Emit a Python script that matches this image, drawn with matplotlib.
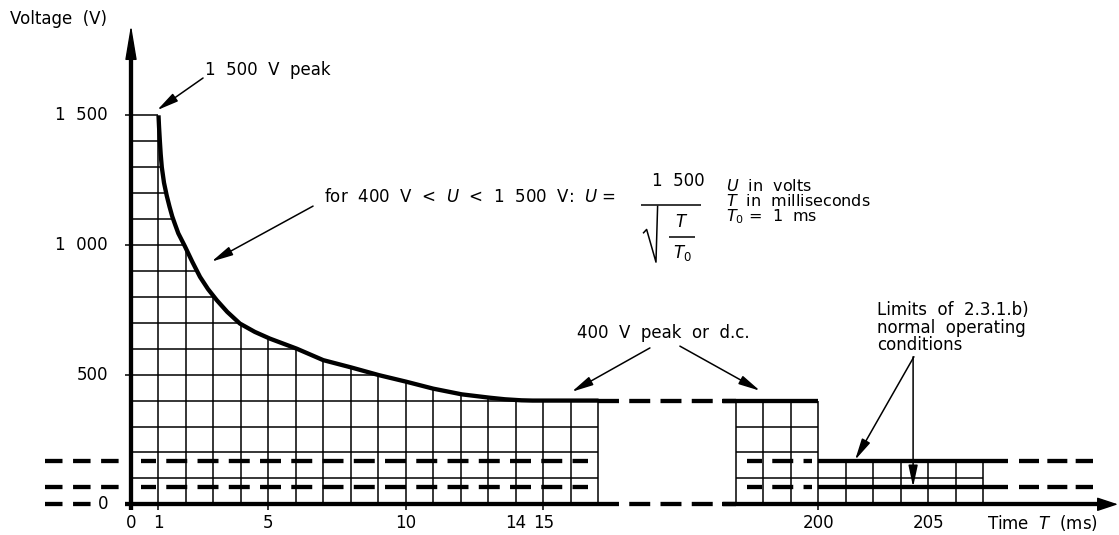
import matplotlib.pyplot as plt
from matplotlib.patches import Polygon

plt.rcParams['font.family'] = 'DejaVu Sans'
plt.rcParams['font.size'] = 12
plt.rcParams['mathtext.fontset'] = 'dejavusans'
plt.rcParams['lines.scale_dashes'] = False
plt.rcParams['lines.solid_capstyle'] = 'butt'

# x positions are in grid cells (1 cell = 1 ms); the axis is broken after 17,
# cells 22..25 stand for 197..200 ms and 25..31 for 200..206 ms
curve_t = [1.00, 1.02, 1.05, 1.08, 1.12, 1.20, 1.30, 1.40, 1.50, 1.60, 1.72,
           1.96, 2.23, 2.51, 2.80, 3.12, 3.50, 3.96, 4.50, 5.05, 6.03, 6.99,
           8.00, 9.02, 10.0, 10.99, 12.03, 13.05, 13.6, 14.2, 14.6, 17.0]
curve_v = [1500, 1455, 1400, 1350, 1300, 1240, 1190, 1148, 1110, 1080, 1045,
           995, 935, 877, 830, 787, 742, 697, 665, 639, 600, 556,
           528, 498, 473, 446, 424, 411, 405, 401, 400, 400]

peak_v = 1500
dc_v = 400
limit_v = [168, 66]
grid_step = 100

sec1 = (0, 17)     # 0..17 ms
sec2 = (22, 25)    # 197..200 ms
sec3 = (25, 31)    # 200..206 ms
limit_end = 31.9

xtick_pos = [0, 1, 5, 10, 14, 15, 25, 29]
xtick_lab = ['0', '1', '5', '10', '14', '15', '200', '205']
xtick_marks = [1, 5, 10, 15, 25]
ytick_v = [1500, 1000, 500, 0]
ytick_lab = ['1  500', '1  000', '500', '0']

THICK = 3.1
THIN = 1.1
DASH = (0, (15.1, 7.4))

fig = plt.figure(figsize=(11.19, 5.35), dpi=100)
ax = fig.add_axes([0, 0, 1, 1])
ax.set_xlim(-131 / 27.5, (1119 - 131) / 27.5)
ax.set_ylim((504.3 - 535) / 0.2593, 504.3 / 0.2593)
ax.axis('off')

# ---- grid under the curve (section 1)
verts = [(sec1[0], 0), (sec1[0], peak_v)] + list(zip(curve_t, curve_v)) + [(sec1[1], 0)]
clip = Polygon(verts, closed=True, transform=ax.transData, fc='none', ec='none')
ax.add_patch(clip)
for u in range(sec1[0] + 1, sec1[1]):
    ln, = ax.plot([u, u], [0, peak_v], color='k', lw=THIN)
    ln.set_clip_path(clip)
for v in range(grid_step, peak_v, grid_step):
    ln, = ax.plot([sec1[0], sec1[1]], [v, v], color='k', lw=THIN)
    ln.set_clip_path(clip)
ax.plot([sec1[1], sec1[1]], [0, dc_v], color='k', lw=THIN)
ax.plot([-0.22, curve_t[0]], [peak_v, peak_v], color='k', lw=THIN)
for v in ytick_v[1:3]:
    ax.plot([-0.22, 0], [v, v], color='k', lw=THIN)

# ---- grid section 2 (197..200)
for u in range(sec2[0], sec2[1] + 1):
    ax.plot([u, u], [0, dc_v], color='k', lw=THIN)
for v in range(grid_step, dc_v, grid_step):
    ax.plot([sec2[0], sec2[1]], [v, v], color='k', lw=THIN)

# ---- grid section 3 (200..206)
for u in range(sec3[0] + 1, sec3[1] + 1):
    ax.plot([u, u], [0, limit_v[0]], color='k', lw=THIN)
ax.plot([sec3[0], sec3[1]], [grid_step, grid_step], color='k', lw=THIN)

# ---- curve and 400 V level
ax.plot(curve_t, curve_v, color='k', lw=THICK, solid_joinstyle='round')
ax.plot([sec1[1], sec2[0]], [dc_v, dc_v], color='k', lw=THICK, ls=DASH)
ax.plot([sec2[0] - 0.5, sec2[1]], [dc_v, dc_v], color='k', lw=THICK)

# ---- limits of normal operating conditions
for v in limit_v:
    ax.plot([-3.13, -0.4], [v, v], color='k', lw=THICK, ls=(0, (12.6, 7.6)))
    ax.plot([0.38, 16.6], [v, v], color='k', lw=THICK, ls=(4.3, (15.1, 7.4)))
    ax.plot([22.39, 24.75], [v, v], color='k', lw=THICK, ls=(4.3, (15.1, 7.4)))
    ax.plot([sec3[0], limit_end], [v, v], color='k', lw=THICK)
    ax.plot([32.3, 35.0], [v, v], color='k', lw=THICK, ls=(0, (14.4, 6.0)))
ax.plot([-3.13, -1.38], [0, 0], color='k', lw=THICK, ls=(0, (12.6, 7.6)))

# ---- axes
ax.plot([-0.22, sec1[1]], [0, 0], color='k', lw=THICK)
ax.plot([sec1[1], sec2[0]], [0, 0], color='k', lw=THICK, ls=DASH)
ax.plot([sec2[0] - 0.5, 35.3], [0, 0], color='k', lw=THICK)
ax.plot([0, 0], [-22, 1735], color='k', lw=THICK)
ax.annotate('', xy=(0, 1848), xytext=(0, 1730),
            arrowprops=dict(arrowstyle='-|>,head_length=2.16,head_width=0.36',
                            lw=1, color='k', shrinkA=0, shrinkB=0, mutation_scale=10))
ax.annotate('', xy=(35.89, 0), xytext=(35.24, 0),
            arrowprops=dict(arrowstyle='-|>,head_length=1.3,head_width=0.43',
                            lw=1, color='k', shrinkA=0, shrinkB=0, mutation_scale=10))
for u in xtick_marks:
    ax.plot([u, u], [0, -22], color='k', lw=THIN)

for u, lab in zip(xtick_pos, xtick_lab):
    ax.text(u, -74, lab, ha='center', va='center')
for v, lab in zip(ytick_v, ytick_lab):
    ax.text(-0.84, v, lab, ha='right', va='center')
ax.text(-4.4, 1872, 'Voltage  (V)', ha='left', va='center')
ax.text(31.13, -74, 'Time  $T$  (ms)', ha='left', va='center')


def arrow(tip, tail):
    ax.annotate('', xy=tip, xytext=tail,
                arrowprops=dict(arrowstyle='-|>,head_length=1.3,head_width=0.28',
                                lw=1.1, color='k', shrinkA=0, shrinkB=0,
                                mutation_scale=10))


# ---- annotations
ax.text(2.69, 1675, '1  500  V  peak', ha='left', va='center')
arrow((0.95, 1520), (2.62, 1644))

ax.text(7.02, 1185, 'for  400  V  <  $U$  <  1  500  V:  $U$ =', ha='left', va='center')
arrow((2.93, 936), (6.62, 1150))
ax.text(19.89, 1245, '1  500', ha='center', va='center')
ax.plot([18.55, 20.73], [1154, 1154], color='k', lw=THIN)
ax.plot([18.62, 18.75, 19.09, 19.15], [1045, 1060, 934, 1152], color='k', lw=THIN)
ax.plot([19.56, 20.51], [1031, 1031], color='k', lw=THIN)
ax.text(20.04, 1089, '$T$', ha='center', va='center')
ax.text(20.04, 969, '$T_0$', ha='center', va='center')

ax.text(21.64, 1227, '$U$  in  volts', ha='left', va='center', fontsize=11.5)
ax.text(21.64, 1170, '$T$  in  milliseconds', ha='left', va='center', fontsize=11.5)
ax.text(21.64, 1108, '$T_0$ =  1  ms', ha='left', va='center', fontsize=11.5)

ax.text(16.22, 661, '400  V  peak  or  d.c.', ha='left', va='center')
arrow((16.03, 434), (18.87, 603))
arrow((22.87, 438), (19.96, 610))

ax.text(27.13, 750, 'Limits  of  2.3.1.b)', ha='left', va='center')
ax.text(27.13, 680, 'normal  operating', ha='left', va='center')
ax.text(27.13, 614, 'conditions', ha='left', va='center')
arrow((26.33, 171), (28.47, 569))
arrow((28.44, 67), (28.44, 569))

fig.savefig('out.png', dpi=100)
